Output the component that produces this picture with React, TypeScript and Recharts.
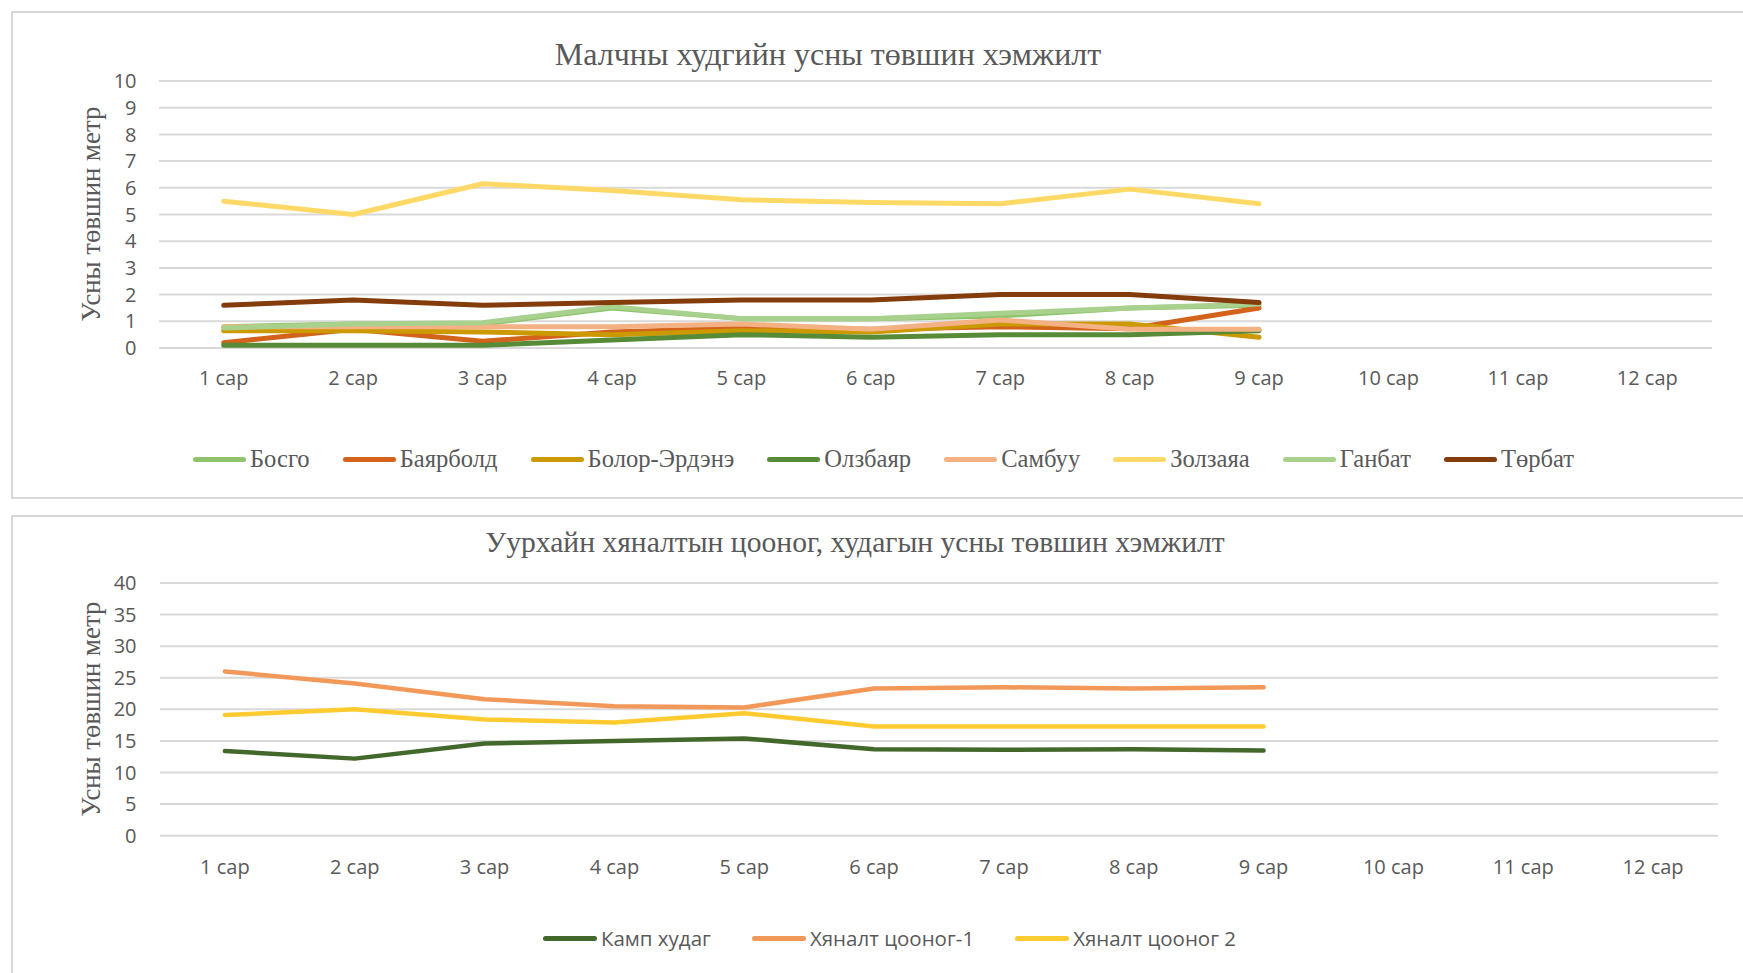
import React from 'react';
import { LineChart, Line, XAxis, YAxis, CartesianGrid } from 'recharts';

const months = ['1 сар', '2 сар', '3 сар', '4 сар', '5 сар', '6 сар', '7 сар', '8 сар', '9 сар', '10 сар', '11 сар', '12 сар'];

// Top chart series
const bosgo = [0.8, 0.9, 0.9, 1.5, 1.1, 1.1, 1.2, 1.5, 1.6];
const bayarbold = [0.2, 0.7, 0.25, 0.6, 0.75, 0.7, 0.8, 0.72, 1.5];
const bolorErdene = [0.65, 0.65, 0.6, 0.5, 0.65, 0.6, 0.9, 0.9, 0.4];
const olzbayar = [0.1, 0.1, 0.1, 0.3, 0.5, 0.4, 0.5, 0.5, 0.65];
const sambuu = [0.8, 0.8, 0.8, 0.8, 0.9, 0.7, 1.05, 0.7, 0.7];
const zolzaya = [5.5, 5.0, 6.15, 5.9, 5.55, 5.45, 5.4, 5.95, 5.4];
const ganbat = [0.75, 0.9, 0.95, 1.55, 1.1, 1.1, 1.3, 1.5, 1.65];
const torbat = [1.6, 1.8, 1.6, 1.7, 1.8, 1.8, 2.0, 2.0, 1.7];
const topTicks = [0, 1, 2, 3, 4, 5, 6, 7, 8, 9, 10];

// Bottom chart series
const kampKhudag = [13.4, 12.2, 14.6, 15.0, 15.4, 13.7, 13.6, 13.7, 13.5];
const khyanalt1 = [26.0, 24.1, 21.6, 20.5, 20.3, 23.3, 23.5, 23.3, 23.5];
const khyanalt2 = [19.1, 20.0, 18.4, 17.9, 19.4, 17.3, 17.3, 17.3, 17.3];
const bottomTicks = [0, 5, 10, 15, 20, 25, 30, 35, 40];

const topSeries = [
  { key: 'bosgo', name: 'Босго', values: bosgo, color: '#8FC46D' },
  { key: 'bayarbold', name: 'Баярболд', values: bayarbold, color: '#D3621A' },
  { key: 'bolor', name: 'Болор-Эрдэнэ', values: bolorErdene, color: '#CC9900' },
  { key: 'olzbayar', name: 'Олзбаяр', values: olzbayar, color: '#578B38' },
  { key: 'sambuu', name: 'Самбуу', values: sambuu, color: '#F4B183' },
  { key: 'zolzaya', name: 'Золзаяа', values: zolzaya, color: '#FFD966' },
  { key: 'ganbat', name: 'Ганбат', values: ganbat, color: '#A9D18E' },
  { key: 'torbat', name: 'Төрбат', values: torbat, color: '#843C0C' },
];

const bottomSeries = [
  { key: 'kamp', name: 'Камп худаг', values: kampKhudag, color: '#43682B' },
  { key: 'k1', name: 'Хяналт цооног-1', values: khyanalt1, color: '#F2995A' },
  { key: 'k2', name: 'Хяналт цооног 2', values: khyanalt2, color: '#FFCB30' },
];

const buildRows = (series: { key: string; values: number[] }[]) =>
  months.map((m, i) => {
    const row: Record<string, any> = { month: m };
    series.forEach((s) => {
      row[s.key] = i < s.values.length ? s.values[i] : null;
    });
    return row;
  });

const topData = buildRows(topSeries);
const bottomData = buildRows(bottomSeries);

const SERIF = '"Liberation Serif", "Times New Roman", serif';
const SANS = '"Open Sans", "Noto Sans", sans-serif';
const TEXT = '#595959';
const GRID = '#D9D9D9';

const tickStyle = { fontFamily: SANS, fontSize: 20, fill: TEXT };

function Legend({ items, font, fontSize, gap, centerX, centerY, lineLen }: any) {
  return (
    <div
      style={{
        position: 'absolute',
        left: 0,
        width: centerX * 2,
        top: centerY - 20,
        height: 40,
        display: 'flex',
        justifyContent: 'center',
        alignItems: 'center',
        fontFamily: font,
        fontSize,
        color: TEXT,
        whiteSpace: 'nowrap',
      }}
    >
      {items.map((s: any, i: number) => (
        <div key={s.key} style={{ display: 'flex', alignItems: 'center', marginRight: i === items.length - 1 ? 0 : gap }}>
          <span style={{ display: 'inline-block', width: lineLen, height: 5, borderRadius: 3, background: s.color, marginRight: 4 }} />
          <span>{s.name}</span>
        </div>
      ))}
    </div>
  );
}

export default function App() {
  return (
    <div style={{ position: 'absolute', left: 0, top: 0, width: 1743, height: 973, overflow: 'hidden', background: '#fff' }}>
      {/* chart frames */}
      <div style={{ position: 'absolute', left: 11, top: 11, width: 1760, height: 484, border: `2px solid ${GRID}` }} />
      <div style={{ position: 'absolute', left: 11, top: 515, width: 1760, height: 500, border: `2px solid ${GRID}` }} />

      {/* Top chart */}
      <div style={{ position: 'absolute', left: 0, top: 0 }}>
        <LineChart width={1743} height={500} data={topData} margin={{ top: 81, right: 31, bottom: 0, left: 0 }}>
          <CartesianGrid vertical={false} stroke={GRID} strokeWidth={2} />
          <XAxis
            dataKey="month"
            height={152}
            padding={{ left: 64.7, right: 64.7 }}
            tickLine={false}
            axisLine={false}
            tickSize={0}
            tickMargin={22.5}
            interval={0}
            tick={tickStyle}
          />
          <YAxis
            width={159}
            domain={[0, 10]}
            ticks={topTicks}
            interval={0}
            tickLine={false}
            axisLine={false}
            tickSize={0}
            tickMargin={22.5}
            tick={tickStyle}
          />
          {topSeries.map((s) => (
            <Line
              key={s.key}
              dataKey={s.key}
              name={s.name}
              stroke={s.color}
              strokeWidth={5}
              strokeLinecap="round"
              strokeLinejoin="round"
              dot={false}
              activeDot={false}
              type="linear"
              isAnimationActive={false}
            />
          ))}
        </LineChart>
      </div>

      {/* Bottom chart */}
      <div style={{ position: 'absolute', left: 0, top: 500 }}>
        <LineChart width={1743} height={473} data={bottomData} margin={{ top: 83, right: 25, bottom: 0, left: 0 }}>
          <CartesianGrid vertical={false} stroke={GRID} strokeWidth={2} />
          <XAxis
            dataKey="month"
            height={137.3}
            padding={{ left: 64.9, right: 64.9 }}
            tickLine={false}
            axisLine={false}
            tickSize={0}
            tickMargin={24}
            interval={0}
            tick={tickStyle}
          />
          <YAxis
            width={160}
            domain={[0, 40]}
            ticks={bottomTicks}
            interval={0}
            tickLine={false}
            axisLine={false}
            tickSize={0}
            tickMargin={23.5}
            tick={tickStyle}
          />
          {bottomSeries.map((s) => (
            <Line
              key={s.key}
              dataKey={s.key}
              name={s.name}
              stroke={s.color}
              strokeWidth={4.5}
              strokeLinecap="round"
              strokeLinejoin="round"
              dot={false}
              activeDot={false}
              type="linear"
              isAnimationActive={false}
            />
          ))}
        </LineChart>
      </div>

      {/* Titles and axis titles */}
      <svg width={1743} height={973} style={{ position: 'absolute', left: 0, top: 0, pointerEvents: 'none' }}>
        <text x={828} y={65} textAnchor="middle" fontFamily={SERIF} fontSize={32} fill={TEXT}>
          Малчны худгийн усны төвшин хэмжилт
        </text>
        <text x={855} y={552} textAnchor="middle" fontFamily={SERIF} fontSize={29.6} fill={TEXT}>
          Уурхайн хяналтын цооног, худагын усны төвшин хэмжилт
        </text>
        <text
          x={91}
          y={214}
          textAnchor="middle"
          dominantBaseline="central"
          fontFamily={SERIF}
          fontSize={26.8}
          fill={TEXT}
          transform="rotate(-90 91 214)"
        >
          Усны төвшин метр
        </text>
        <text
          x={91}
          y={709}
          textAnchor="middle"
          dominantBaseline="central"
          fontFamily={SERIF}
          fontSize={26.8}
          fill={TEXT}
          transform="rotate(-90 91 709)"
        >
          Усны төвшин метр
        </text>
      </svg>

      <Legend items={topSeries} font={SERIF} fontSize={24.6} gap={33} centerX={883.5} centerY={459} lineLen={53} />
      <Legend items={bottomSeries} font={SANS} fontSize={20.5} gap={41} centerX={889.5} centerY={938} lineLen={54} />
    </div>
  );
}
